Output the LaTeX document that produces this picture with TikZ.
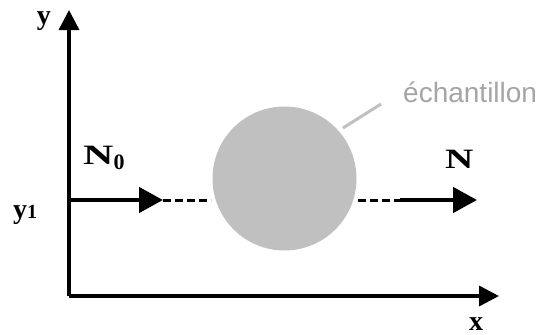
\documentclass[tikz,border=0pt]{standalone}
\usepackage{fontspec}
\usepackage{graphicx}
\setmainfont{Liberation Serif}
\newfontfamily\labelsans{Liberation Sans}
\usetikzlibrary{arrows.meta}
\definecolor{disc}{RGB}{192,192,192}
\definecolor{labgray}{RGB}{165,165,165}
\tikzset{
  axis/.style={line width=3.5pt, -{Triangle[length=20pt,width=20pt]}},
  beam/.style={line width=4.5pt, -{Triangle[length=24pt,width=25pt]}},
  beamdash/.style={line width=3pt, dash pattern=on 8pt off 4pt},
  lab/.style={inner sep=0pt, font=\fontsize{28}{28}\selectfont\bfseries},
}
\begin{document}
\begin{tikzpicture}[x=1pt,y=-1pt]
\useasboundingbox[fill=white] (0,0) rectangle (542,335);
\coordinate (O) at (69,296);
\coordinate (Ytop) at (69,10);
\coordinate (Xend) at (499,296);
\draw[axis] (O) -- (Ytop);
\draw[axis] (O) -- (Xend);
% sample
\node[circle, fill=disc, minimum size=144pt, inner sep=0pt] (S) at (284.5,178.5) {};
\coordinate (L0) at (69,200);
\coordinate (L1) at (163,200);
\coordinate (Lc) at (211,200);
\coordinate (Rc) at (358,200);
\coordinate (R0) at (400,200);
\coordinate (R1) at (477,200);
\draw[beam] (L0) -- (L1);
\draw[beamdash] (L1) -- (Lc);
\draw[beamdash] (Rc) -- (R0);
\draw[beam] (R0) -- (R1);
% leader
\coordinate (P1) at (343,128);
\coordinate (P2) at (381,104);
\draw[disc, line width=3pt] (P1) -- (P2);
\node[anchor=base west, inner sep=0pt, text=labgray, font=\labelsans\fontsize{28}{28}\selectfont] (ech) at (403,102) {échantillon};
% labels
\node[lab] (ylab) at (44,21) {y};
\node[lab] (xlab) at (476,324) {x};
\node[lab, anchor=base west] (N0) at (83,164) {\scalebox{1.5}[1]{N}\raisebox{-5pt}{\fontsize{22}{22}\selectfont 0}};
\node[lab, anchor=base west] (N) at (445,168) {\scalebox{1.4}[1]{N}};
\node[lab, anchor=base west] (y1) at (13,218) {y\fontsize{20}{20}\selectfont 1};
\end{tikzpicture}
\end{document}
